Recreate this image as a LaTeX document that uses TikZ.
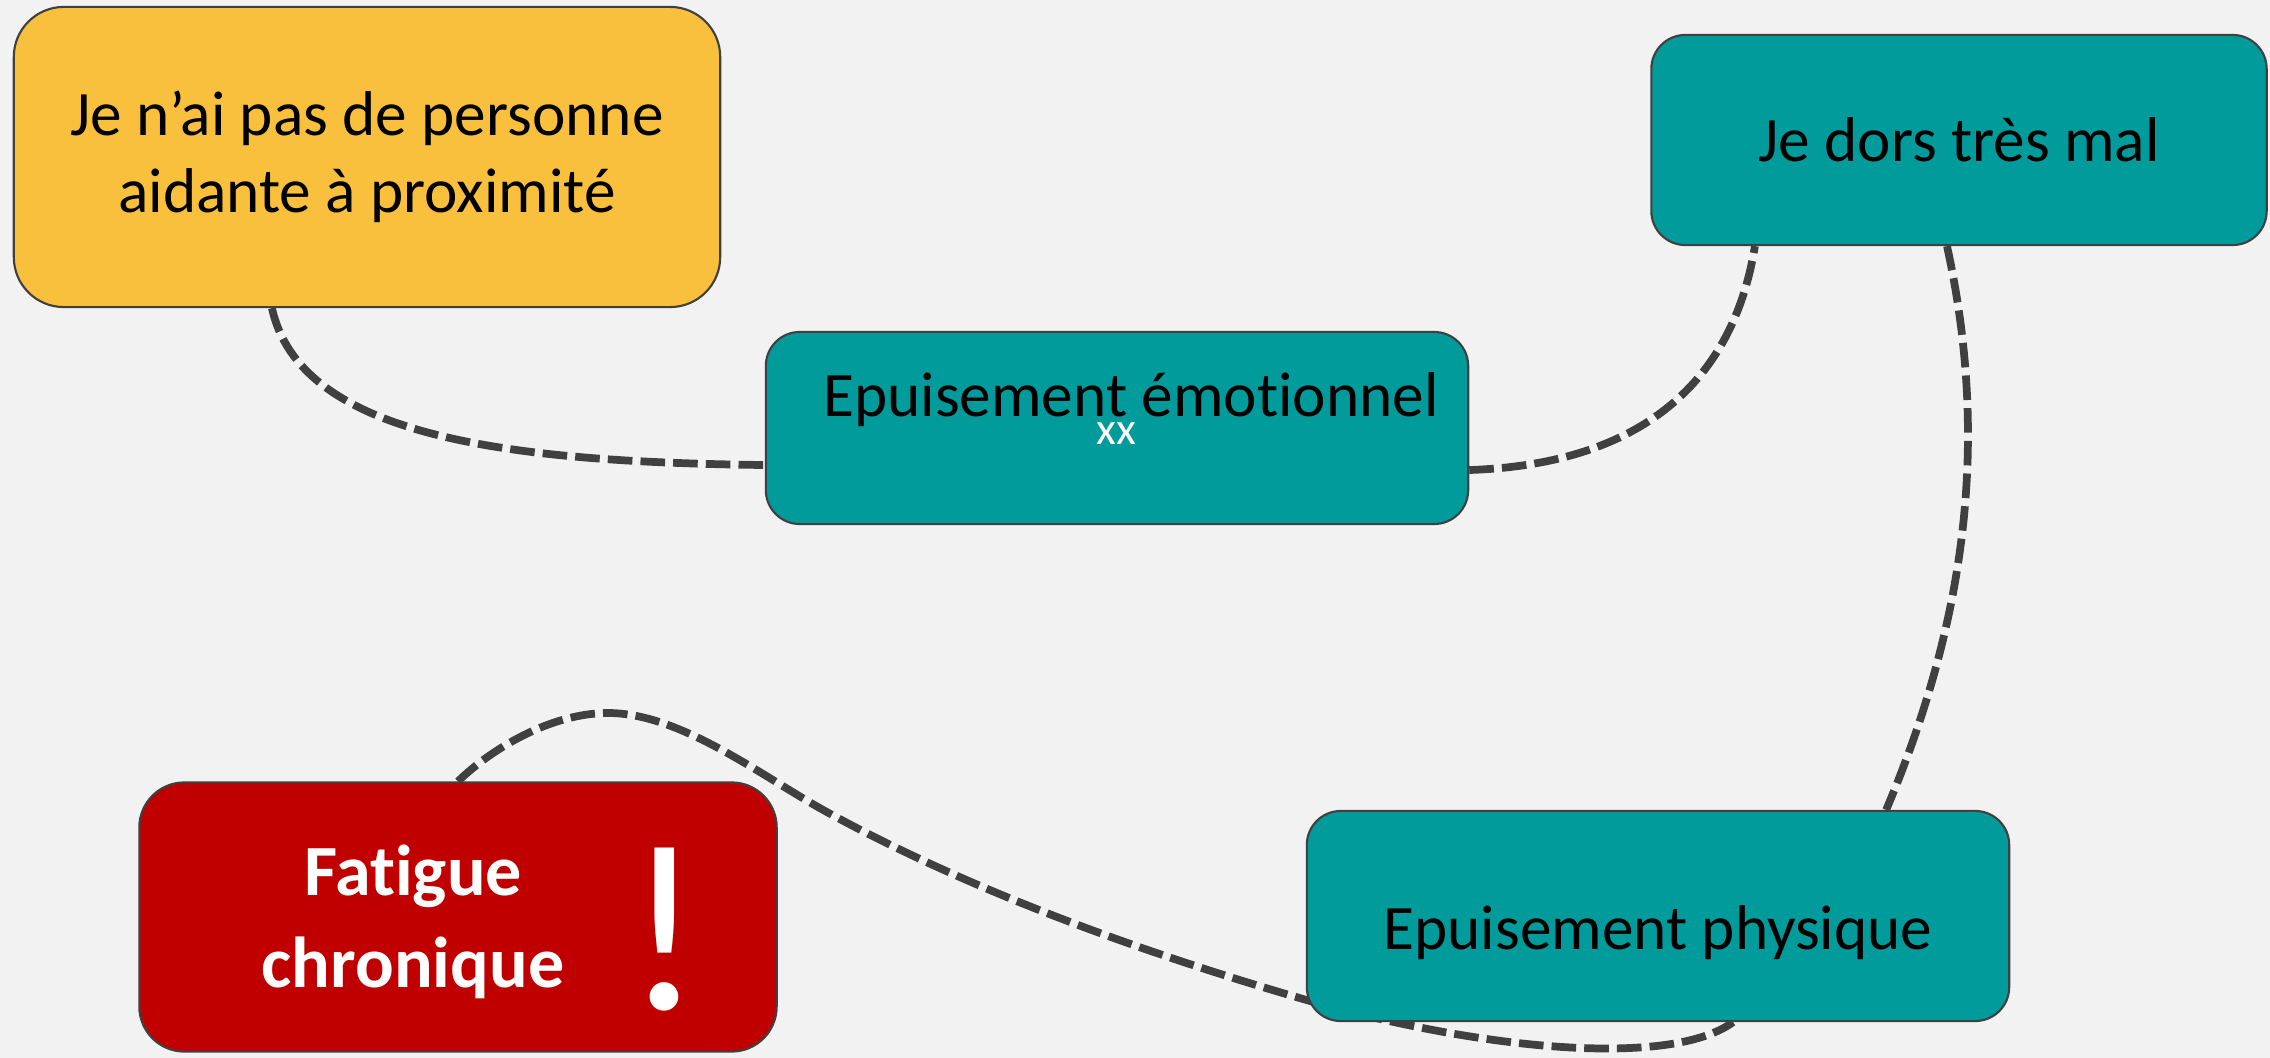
\documentclass[tikz,border=0pt]{standalone}
\usepackage{fontspec}
\setmainfont{Carlito}[RawFeature={-liga;-clig;-calt;-dlig}]
\usepackage{tikz}
\usetikzlibrary{calc,positioning,shapes.geometric}
\definecolor{bgpage}{HTML}{F2F2F2}
\definecolor{yellownode}{HTML}{F8C03D}
\definecolor{tealnode}{HTML}{009B9A}
\definecolor{rednode}{HTML}{C00000}
\definecolor{darkline}{HTML}{404040}
\pgfdeclarelayer{back}
\pgfdeclarelayer{links}
\pgfsetlayers{back,links,main}
\tikzset{
      base/.style = {draw=darkline, line width=0.6pt, align=center,
                     font=\fontsize{18}{22}\selectfont},   % <--- common box look
   aidebox/.style = {base, fill=yellownode, rounded corners=0.5cm},
   tealbox/.style = {base, fill=tealnode, rounded corners=0.34cm},
    redbox/.style = {base, fill=rednode, rounded corners=0.45cm},
    redtxt/.style = {text=white, align=center,
                     font=\fontsize{20.5}{26}\selectfont\bfseries},
      link/.style = {draw=darkline, line width=2.2pt,
                     dash pattern=on 7pt off 2.3pt},       % <--- dashed connectors
        }

\begin{document}
\begin{tikzpicture}[x=0.01cm, y=-0.01cm]
  \begin{pgfonlayer}{back}
    \fill[bgpage] (0,0) rectangle (2270,1058);
  \end{pgfonlayer}
  \useasboundingbox (0,0) rectangle (2270,1058);

  \node[aidebox, minimum width=7.06cm, minimum height=3cm] (aide) at (367,157)
       {Je n’ai pas de personne\\aidante à proximité};
  \node[tealbox, minimum width=6.15cm, minimum height=2.1cm,
        text height=0.56cm, text depth=0.13cm] (dors) at (1959,140)
       {Je dors très mal};
  \node[tealbox, minimum width=7.02cm, minimum height=1.92cm] (emo) at (1117,428) {};
  \node[font=\fontsize{18}{22}\selectfont] (emolbl) at (1131,400) {Epuisement émotionnel};
  \node[text=white, font=\fontsize{13}{15}\selectfont] (xx) at (1116,434) {xx};
  \node[tealbox, minimum width=7.02cm, minimum height=2.1cm,
        text height=0.8cm, text depth=0.13cm] (phys) at (1658,916)
       {Epuisement physique};
  \node[redbox, minimum width=6.37cm, minimum height=2.69cm] (fatigue) at (458,917) {};
  \node[redtxt] (fatiguelbl) at (413,922) {Fatigue\\chronique};
  \node[text=white, font=\fontsize{68}{70}\selectfont] (alerte) at (664,930) {!};

  \begin{pgfonlayer}{links}
  \draw[link] ([xshift=-0.95cm]aide.south) .. controls (300,435) and (500,462) .. ([yshift=-0.37cm]emo.west);
  \draw[link] ([yshift=-0.42cm]emo.east) .. controls (1620,465) and (1730,400) .. ([xshift=-2.04cm]dors.south);
  \draw[link] ([xshift=-0.12cm]dors.south) .. controls (1985,420) and (1975,600) .. ([xshift=2.28cm]phys.north);
  \draw[link] (fatigue.north) .. controls (490,750) and (550,713) .. (608,713)
              .. controls (680,713) and (760,775) .. (825,811)
              .. controls (945,877) and (1103,941) .. (1303,999)
              .. controls (1480,1050) and (1670,1068) .. ([xshift=0.75cm]phys.south);
  \end{pgfonlayer}
\end{tikzpicture}
\end{document}
